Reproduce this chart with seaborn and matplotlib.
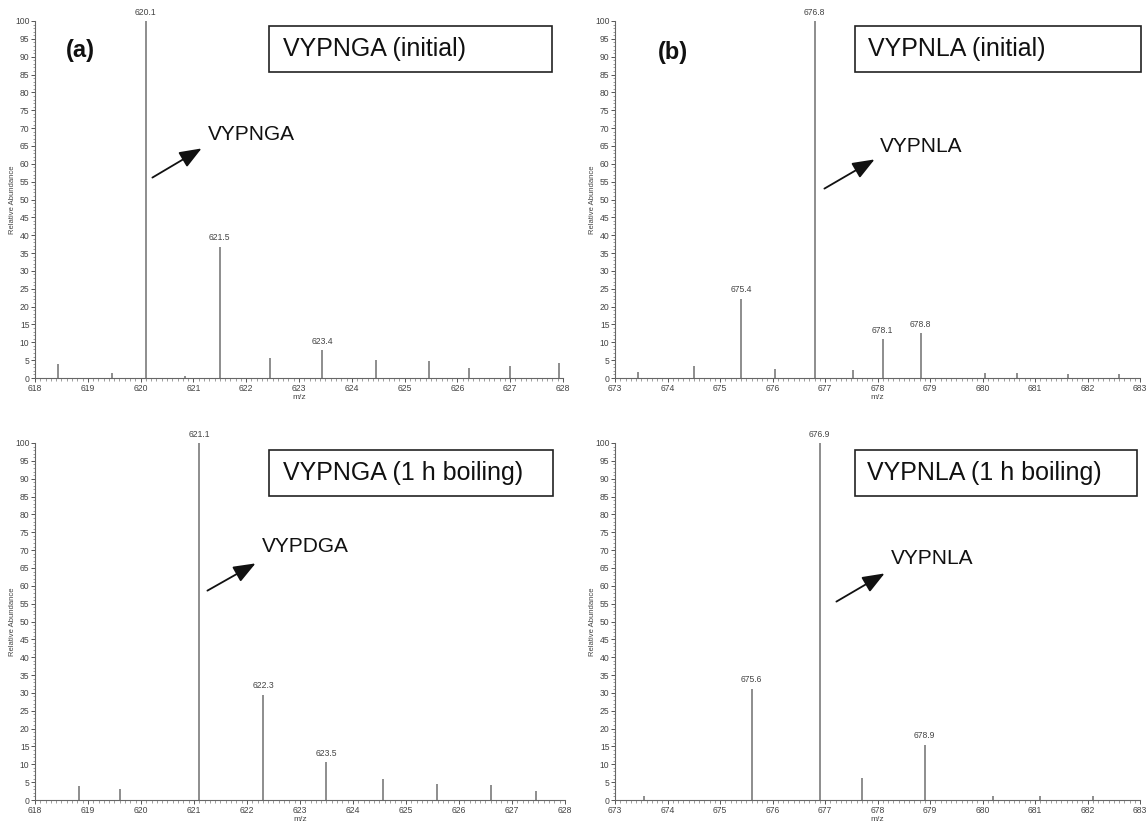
import matplotlib
matplotlib.use("Agg")
import matplotlib.pyplot as plt
from matplotlib.patches import Rectangle
from matplotlib.ticker import MultipleLocator
import seaborn as sns

sns.set_theme(style="ticks")
plt.rcParams['font.family'] = ['Liberation Sans', 'DejaVu Sans']

# %% Data (m/z, relative abundance, peak label)
mz_a = [618.44, 619.45, 620.1, 620.85, 621.5, 622.46, 623.44, 624.46, 625.47, 626.22, 626.99, 627.93]
ab_a = [3.8, 1.5, 100, 0.5, 36.8, 5.6, 7.8, 5.0, 4.7, 2.8, 3.5, 4.3]
lab_a = ['', '', '620.1', '', '621.5', '', '623.4', '', '', '', '', '']

mz_b = [673.44, 674.5, 675.4, 676.05, 676.8, 677.53, 678.1, 678.82, 680.05, 680.65, 681.63, 682.6]
ab_b = [1.6, 3.3, 22.2, 2.5, 100, 2.3, 10.8, 12.5, 1.3, 1.3, 1.2, 1.2]
lab_b = ['', '', '675.4', '', '676.8', '', '678.1', '678.8', '', '', '', '']

mz_c = [618.83, 619.61, 621.1, 622.31, 623.49, 624.56, 625.59, 626.6, 627.46]
ab_c = [4.0, 3.2, 100, 29.5, 10.7, 6.0, 4.6, 4.1, 2.4]
lab_c = ['', '', '621.1', '622.3', '623.5', '', '', '', '']

mz_d = [673.55, 675.6, 676.9, 677.7, 678.9, 680.2, 681.1, 682.1]
ab_d = [1.0, 31.2, 100, 6.2, 15.5, 1.2, 1.2, 1.0]
lab_d = ['', '675.6', '676.9', '', '678.9', '', '', '']

xlims = [(618, 628), (673, 683), (618, 628), (673, 683)]
box_texts = ['VYPNGA (initial)', 'VYPNLA (initial)', 'VYPNGA (1 h boiling)', 'VYPNLA (1 h boiling)']
arrow_texts = ['VYPNGA', 'VYPNLA', 'VYPDGA', 'VYPNLA']
panel_tags = ['(a)', '(b)', '', '']

W, H = 1147, 826
def px(x, y):
    # pixel position in the reference -> figure fraction
    return (x / W, 1 - y / H)

# axes boxes in reference pixels: left, top(100%), right, bottom(0)
ax_boxes = [(35, 21, 563, 378), (615, 21, 1140, 378), (35, 443, 565, 800), (615, 443, 1140, 800)]
# title boxes (x0, y0, x1, y1) and text start
title_boxes = [(269, 26, 552, 72), (855, 26, 1141, 72), (269, 450, 553, 496), (855, 450, 1137, 496)]
title_x = [283, 868, 283, 867]
# arrows: tail, head, text left
arrows = [((150, 179), (204, 147), (208, 135)),
          ((822, 190), (877, 158), (880, 147)),
          ((205, 592), (258, 562), (262, 546)),
          ((834, 603), (887, 572), (891, 558))]
tag_pos = [(80, 50), (673, 52)]

line_c = '#7a7a7a'
text_c = '#444444'

fig = plt.figure(figsize=(W / 100, H / 100), dpi=100)
fig.patch.set_facecolor('white')

data = [(mz_a, ab_a, lab_a), (mz_b, ab_b, lab_b), (mz_c, ab_c, lab_c), (mz_d, ab_d, lab_d)]
for i, (mz, ab, lab) in enumerate(data):
    l, t, r, b = ax_boxes[i]
    ax = fig.add_axes([l / W, 1 - b / H, (r - l) / W, (b - t) / H])
    ax.set_facecolor('white')
    ax.vlines(mz, 0, ab, color=line_c, lw=1.2)
    for m, a, s in zip(mz, ab, lab):
        if s:
            ax.text(m, a + 1.2, s, ha='center', va='bottom', fontsize=6.2, color=text_c)
    ax.set_xlim(*xlims[i])
    ax.set_ylim(0, 100)
    ax.xaxis.set_major_locator(MultipleLocator(1))
    ax.xaxis.set_minor_locator(MultipleLocator(0.1))
    ax.yaxis.set_major_locator(MultipleLocator(5))
    ax.yaxis.set_minor_locator(MultipleLocator(1))
    ax.tick_params(axis='both', which='major', labelsize=6.2, colors='#555555',
                   labelcolor=text_c, length=3, width=0.7, pad=1)
    ax.tick_params(axis='both', which='minor', colors='#777777', length=1.8, width=0.5)
    sns.despine(ax=ax)
    for sp in ['left', 'bottom']:
        ax.spines[sp].set_color('#666666')
        ax.spines[sp].set_linewidth(0.8)
    ax.set_xlabel('m/z', fontsize=6, color=text_c)
    ax.xaxis.set_label_coords(0.5, -0.044)
    ax.set_ylabel('Relative Abundance', fontsize=5.5, color=text_c)
    ax.yaxis.set_label_coords(-0.036, 0.5)
    ax.grid(False)

    # title box
    x0, y0, x1, y1 = title_boxes[i]
    fx0, fy1 = px(x0, y1)
    fx1, fy0 = px(x1, y0)
    fig.patches.append(Rectangle((fx0, fy1), fx1 - fx0, fy0 - fy1, transform=fig.transFigure,
                                 fill=False, edgecolor='#222222', lw=1.2))
    fig.text(*px(title_x[i], (y0 + y1) / 2), box_texts[i], fontsize=18, color='#111111',
             ha='left', va='center')

    # arrow and label
    tail, head, tpos = arrows[i]
    fig.add_artist(matplotlib.patches.FancyArrowPatch(px(*tail), px(*head), transform=fig.transFigure,
                   arrowstyle='-|>,head_length=9,head_width=3.5', mutation_scale=1.5,
                   color='#111111', lw=1.3))
    fig.text(*px(*tpos), arrow_texts[i], fontsize=15, color='#111111', ha='left', va='center')

    if panel_tags[i]:
        fig.text(*px(*tag_pos[i]), panel_tags[i], fontsize=17, fontweight='bold',
                 color='#111111', ha='center', va='center')

fig.savefig('out.png', dpi=100, facecolor='white')
